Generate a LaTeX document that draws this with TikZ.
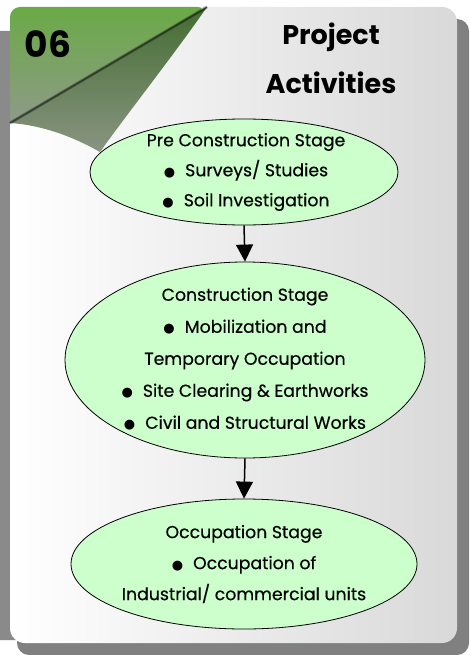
\documentclass[tikz,border=0pt]{standalone}
\usepackage{fontspec}
\setmainfont{Poppins}
\newfontfamily\medfont{Poppins}[FakeBold=0.35]
\newfontfamily\djv{DejaVu Sans}
\usetikzlibrary{shapes.geometric,arrows.meta}
\definecolor{shadowgray}{HTML}{808080}
\definecolor{stripgray}{HTML}{8A8A8A}
\definecolor{ellfill}{HTML}{CCFFCC}
\definecolor{leafgreen}{HTML}{6AAA46}
\definecolor{leafgray}{HTML}{8E9A88}
\definecolor{flapdark}{HTML}{3E6A2C}
\definecolor{flapmid}{HTML}{7F9274}
\definecolor{flapgray}{HTML}{A0A19B}
\newcommand{\bul}{{\djv\fontsize{13}{13}\selectfont ●}\hspace{10pt}}
\tikzset{
  stage/.style={ellipse, draw=black, line width=0.8pt, fill=ellfill, inner sep=0pt},
  stagetext/.style={align=center, font=\medfont\fontsize{17.3}{30}\selectfont, inner sep=0pt},
  flow/.style={line width=1.5pt, -{Triangle[width=17pt,length=17pt]}},
  titletext/.style={font=\bfseries\fontsize{27}{27}\selectfont, inner sep=0pt}
}
\begin{document}
\begin{tikzpicture}[x=1pt,y=-1pt]
\useasboundingbox (0,0) rectangle (469,655);
% left strip
\fill[stripgray, rounded corners=8pt] (-12,31) rectangle (30,640);
% shadow
\fill[shadowgray, rounded corners=12pt] (17,19) rectangle (469,655);
% card
\shade[left color=white, right color=black!15, rounded corners=15pt] (10,7) rectangle (457,643);
% green corner
\shade[top color=leafgreen, bottom color=leafgray, rounded corners=10pt] (10,123) -- (10,7) -- (207,7) [sharp corners] -- cycle;
% flap
\begin{scope}
  \clip (207,7) .. controls (170,60) and (130,110) .. (100,152)
    .. controls (70,135) and (40,125) .. (10,123) -- cycle;
  \shade[rotate around={30.5:(207,7)}, top color=flapdark, middle color=flapmid, bottom color=flapgray]
    (-40,7) rectangle (230,85);
\end{scope}
\draw[line width=3pt, black, opacity=0.3] (207,7) -- (10,123);
\draw[line width=1.2pt, black, opacity=0.45] (207,7) -- (10,123);
% titles
\node[titletext, font=\bfseries\fontsize{36}{36}\selectfont] (num) at (48,44) {06};
\node[titletext] (t1) at (331,37) {Project};
\node[titletext] (t2) at (331,83) {Activities};
% stages
\node[stage, minimum width=308pt, minimum height=106pt] (e1) at (244,172) {};
\node[stage, minimum width=360pt, minimum height=196pt] (e2) at (245,360) {};
\node[stage, minimum width=346pt, minimum height=130pt] (e3) at (244,564) {};
\node[stagetext] (s1) at (246,172) {Pre Construction Stage\\ \bul Surveys/ Studies\\ \bul Soil Investigation};
\node[stagetext, font=\medfont\fontsize{17.3}{32}\selectfont] (s2) at (245,359) {Construction Stage\\ \bul Mobilization and\\ Temporary Occupation\\ \bul Site Clearing \& Earthworks\\ \bul Civil and Structural Works};
\node[stagetext, font=\medfont\fontsize{17.3}{31}\selectfont] (s3) at (244,564) {Occupation Stage\\ \bul Occupation of\\ Industrial/ commercial units};
\draw[flow] (e1.south) -- (e2.north);
\draw[flow] (e2.south) -- (e3.north);
\end{tikzpicture}
\end{document}
